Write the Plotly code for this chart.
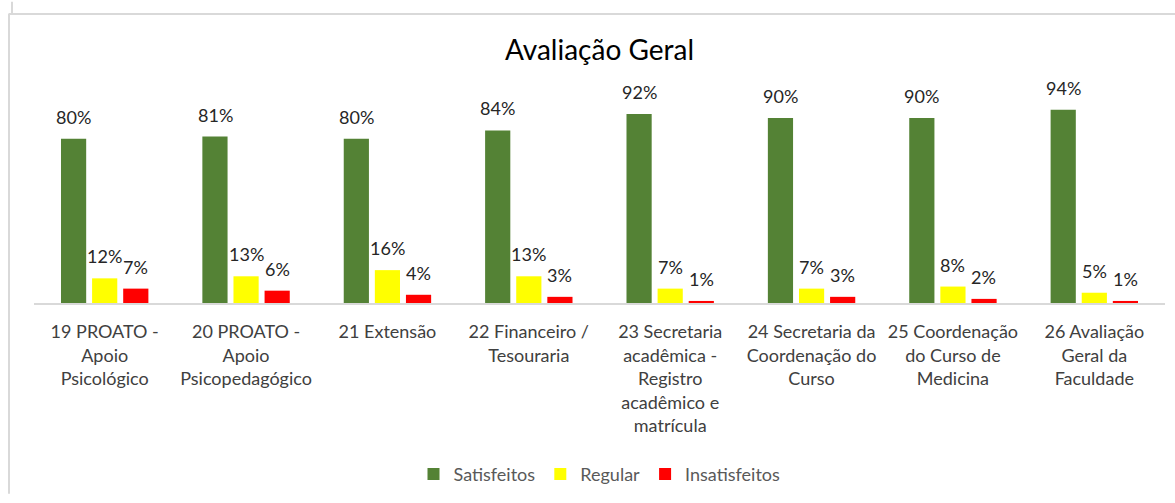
import plotly.graph_objects as go

categories = [
    "19 PROATO -<br>Apoio<br>Psicológico",
    "20 PROATO -<br>Apoio<br>Psicopedagógico",
    "21 Extensão",
    "22 Financeiro /<br>Tesouraria",
    "23 Secretaria<br>acadêmica -<br>Registro<br>acadêmico e<br>matrícula",
    "24 Secretaria da<br>Coordenação do<br>Curso",
    "25 Coordenação<br>do Curso de<br>Medicina",
    "26 Avaliação<br>Geral da<br>Faculdade",
]
satisfeitos = [80, 81, 80, 84, 92, 90, 90, 94]
regular = [12, 13, 16, 13, 7, 7, 8, 5]
insatisfeitos = [7, 6, 4, 3, 1, 3, 2, 1]

series = [
    ("Satisfeitos", satisfeitos, "#548235"),
    ("Regular", regular, "#FFFF00"),
    ("Insatisfeitos", insatisfeitos, "#FF0000"),
]

FONT = "Lato"
fig = go.Figure()
for name, vals, color in series:
    fig.add_trace(go.Bar(
        name=name, x=categories, y=vals,
        marker=dict(color=color, line=dict(width=0)),
    ))

# data labels above each bar
shifts = [-31, 0, 31]
for (name, vals, color), xs in zip(series, shifts):
    for c, v in zip(categories, vals):
        fig.add_annotation(
            x=c, y=v, xref="x", yref="y", text=f"{v}%", showarrow=False,
            xshift=xs, yshift=9, yanchor="bottom",
            font=dict(family=FONT, size=18, color="#262626"),
        )

# chart frame lines (pixel positions converted to paper coords)
L, R, T, B = 34, 10, 77, 195
W, H = 1175, 503
pw, ph = W - L - R, H - T - B
def px(x):
    return (x - L) / pw
def py(y):
    return (H - B - y) / ph

line = dict(color="#D9D9D9", width=2)
fig.add_shape(type="line", xref="paper", yref="paper", x0=px(9), x1=px(9), y0=py(12), y1=py(503), line=line)
fig.add_shape(type="line", xref="paper", yref="paper", x0=px(9), x1=px(1176), y0=py(12.5), y1=py(12.5), line=line)
fig.add_shape(type="line", xref="paper", yref="paper", x0=px(12), x1=px(12), y0=py(0), y1=py(12), line=line)

fig.update_layout(
    width=W, height=H,
    margin=dict(l=L, r=R, t=T, b=B),
    paper_bgcolor="white", plot_bgcolor="white",
    barmode="group", bargap=0.34, bargroupgap=0.19,
    title=dict(text="Avaliação Geral", x=0.5, xref="paper", y=1 - 50 / H,
               yanchor="middle", xanchor="center",
               font=dict(family=FONT, size=28, color="#000000")),
    xaxis=dict(showline=True, linecolor="#D9D9D9", linewidth=1.5,
               ticks="", showgrid=False, ticklabelstandoff=12,
               tickfont=dict(family=FONT, size=18, color="#404040")),
    yaxis=dict(range=[0, 110], visible=False, showgrid=False),
    legend=dict(orientation="h", x=0.5, xanchor="center", y=py(483), yanchor="middle",
                font=dict(family=FONT, size=18, color="#595959"), itemwidth=30,
                traceorder="normal"),
    showlegend=True,
)

fig.write_html("out.html", config={"displayModeBar": False},
               post_script="document.body.style.margin='0';document.body.style.overflow='hidden';")
